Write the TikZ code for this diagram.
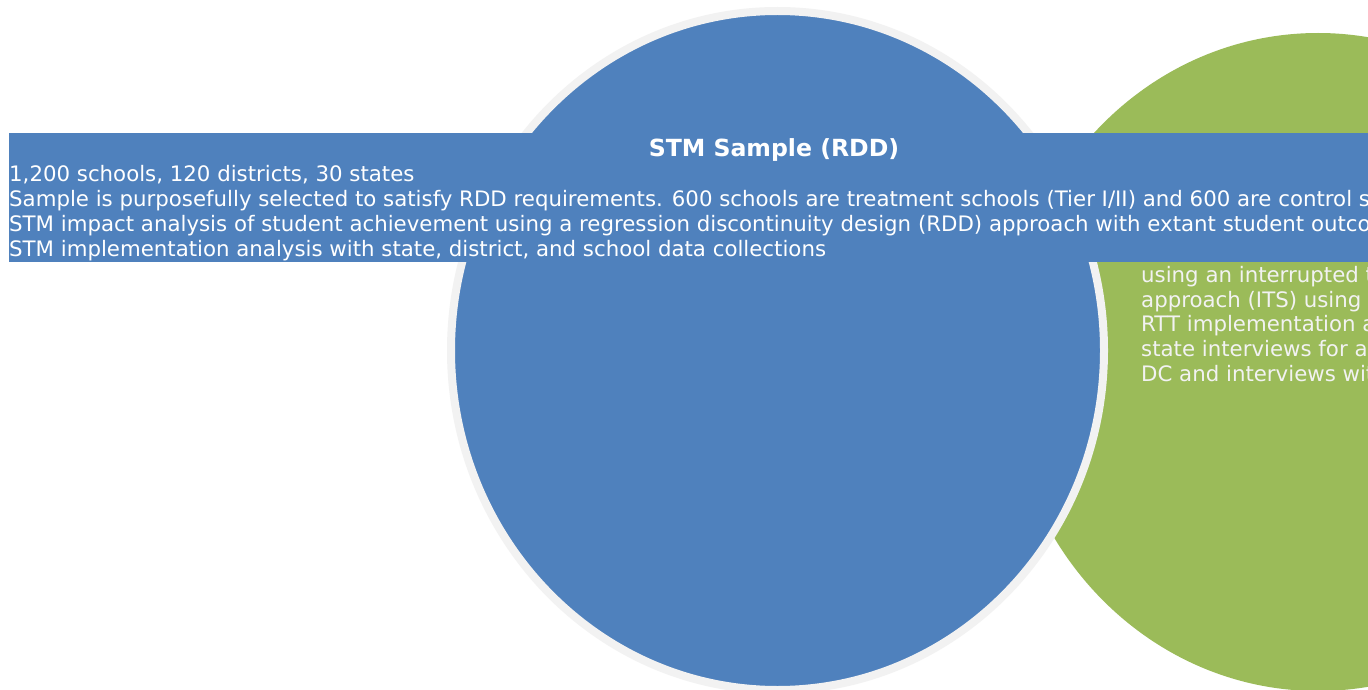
\documentclass[tikz,border=0pt]{standalone}
\usepackage{fontspec}
\setmainfont{DejaVu Sans}
\definecolor{stmblue}{HTML}{4F81BD}
\definecolor{rttgreen}{HTML}{9BBB59}
\definecolor{ringgray}{HTML}{F2F2F2}
\tikzset{
  bodytext/.style={anchor=base west, inner sep=0pt, text=white, font=\fontsize{21.3}{25}\selectfont},
  greentext/.style={anchor=base west, inner sep=0pt, text=ringgray, font=\fontsize{21.3}{25}\selectfont},
  titletext/.style={anchor=base, inner sep=0pt, text=white, font=\fontsize{23.6}{27}\selectfont\bfseries}
}
\begin{document}
\begin{tikzpicture}[x=1pt,y=-1pt]
\useasboundingbox (0,0) rectangle (1368,690);
\clip (0,0) rectangle (1368,690);
\fill[white] (0,0) rectangle (1368,690);
% green circle
\fill[rttgreen] (1318,362) ellipse [x radius=312pt, y radius=329pt];
\node[greentext] (g1) at (1141,282) {using an interrupted time series};
\node[greentext] (g2) at (1141,307) {approach (ITS) using extant};
\node[greentext] (g3) at (1141,331.5) {RTT implementation analysis};
\node[greentext] (g4) at (1141,356) {state interviews for all};
\node[greentext] (g5) at (1141,381) {DC and interviews with};
% blue circle with grey ring
\fill[stmblue, draw=ringgray, line width=8pt] (777.5,350.5) ellipse [x radius=326.5pt, y radius=339.5pt];
% banner
\fill[stmblue] (9,133) rectangle (1380,261.5);
\node[titletext] (title) at (774,156.5) {STM Sample (RDD)};
\node[bodytext] (l1) at (9,181.5) {1,200 schools, 120 districts, 30 states};
\node[bodytext] (l2) at (9,206.5) {Sample is purposefully selected to satisfy RDD requirements. 600 schools are treatment schools (Tier I/II) and 600 are control schools};
\node[bodytext] (l3) at (9,231.5) {STM impact analysis of student achievement using a regression discontinuity design (RDD) approach with extant student outcome data};
\node[bodytext] (l4) at (9,256) {STM implementation analysis with state, district, and school data collections};
\end{tikzpicture}
\end{document}
